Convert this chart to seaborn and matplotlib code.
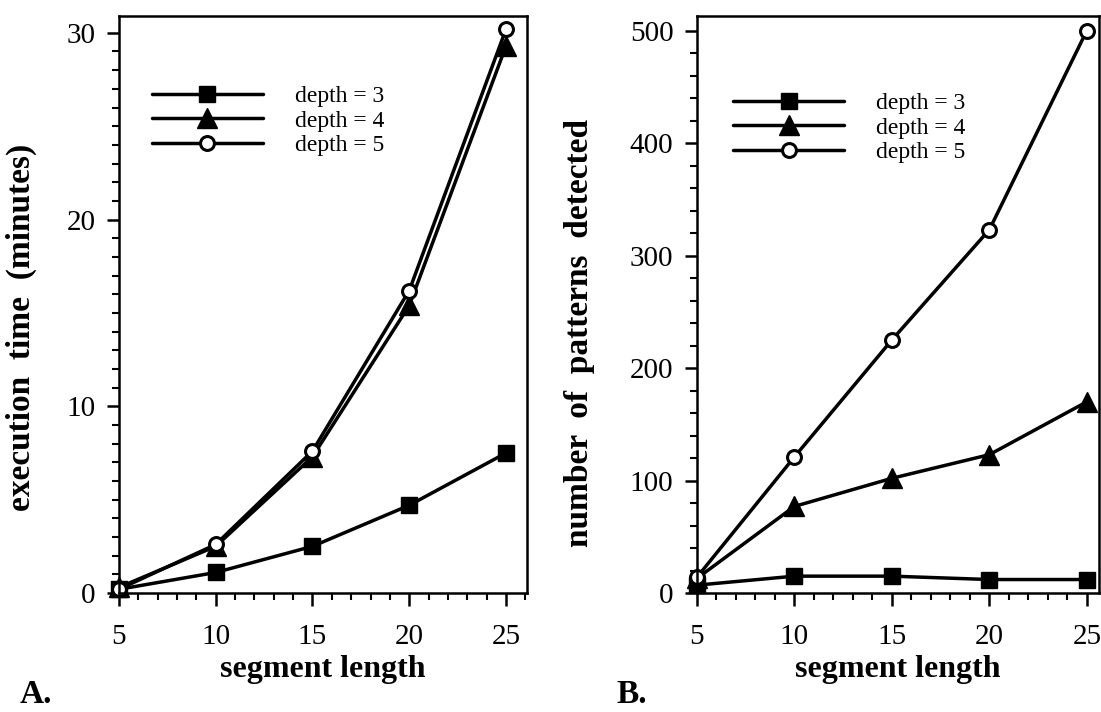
import numpy as np
import pandas as pd
import seaborn as sns
import matplotlib.pyplot as plt
from matplotlib.ticker import MultipleLocator

# データ
seg_len = [5, 10, 15, 20, 25]
depths = ["depth = 3", "depth = 4", "depth = 5"]

time_d3 = [0.2, 1.1, 2.5, 4.7, 7.5]
time_d4 = [0.3, 2.5, 7.3, 15.4, 29.3]
time_d5 = [0.2, 2.6, 7.6, 16.2, 30.2]

pat_d3 = [7, 15, 15, 12, 12]
pat_d4 = [13, 77, 102, 123, 170]
pat_d5 = [14, 121, 225, 323, 500]

sns.set_style("ticks")
plt.rcParams["font.family"] = ["Liberation Serif", "DejaVu Serif"]
plt.rcParams["text.color"] = "black"
plt.rcParams["axes.labelcolor"] = "black"
plt.rcParams["axes.edgecolor"] = "black"
plt.rcParams["xtick.color"] = "black"
plt.rcParams["ytick.color"] = "black"

# マーカーの設定
styles = [
    dict(marker="s", markersize=11, markerfacecolor="black", markeredgewidth=1),
    dict(marker="^", markersize=14, markerfacecolor="black", markeredgewidth=1),
    dict(marker="o", markersize=10, markerfacecolor="white", markeredgewidth=2.2),
]

fig = plt.figure(figsize=(11.01, 7.12), dpi=100)
ax_a = fig.add_axes([0.108, 0.1671, 0.3706, 0.8104])
ax_b = fig.add_axes([0.633, 0.1671, 0.3651, 0.8104])


def draw_panel(ax, series, ylim, ymajor, yminor, xmax, ylabel, leg_xy):
    for vals, name, st in zip(series, depths, styles):
        sns.lineplot(x=seg_len, y=vals, ax=ax, color="black", lw=2.5,
                     markeredgecolor="black", label=name, clip_on=False, **st)
    ax.set_xlim(5, xmax)
    ax.set_ylim(*ylim)
    ax.xaxis.set_major_locator(MultipleLocator(5))
    ax.xaxis.set_minor_locator(MultipleLocator(1))
    ax.yaxis.set_major_locator(MultipleLocator(ymajor))
    ax.yaxis.set_minor_locator(MultipleLocator(yminor))
    ax.tick_params(which="major", direction="out", length=9, width=1.8,
                   labelsize=21, pad=8, labelcolor="black")
    ax.tick_params(which="minor", direction="out", length=5, width=1.5)
    ax.tick_params(axis="x", which="major", pad=13)
    for sp in ax.spines.values():
        sp.set_linewidth(1.8)
        sp.set_color("black")
    ax.set_xlabel("segment length", fontsize=23, fontweight="bold")
    ax.xaxis.set_label_coords(0.5, -0.108)
    ax.set_ylabel(ylabel, fontsize=24, fontweight="bold")
    ax.yaxis.label.set_va("center")
    ax.legend(loc="upper left", bbox_to_anchor=leg_xy, frameon=False,
              fontsize=17, handlelength=4.7, handletextpad=1.35,
              labelspacing=0.12, borderpad=0, borderaxespad=0)


draw_panel(ax_a, [time_d3, time_d4, time_d5], (0, 30.9), 10, 1, 26.08,
           "execution  time  (minutes)", (0.081, 0.879))
ax_a.yaxis.set_label_coords(-0.238, 0.46)

draw_panel(ax_b, [pat_d3, pat_d4, pat_d5], (0, 513), 100, 20, 25.62,
           "number  of  patterns  detected", (0.09, 0.867))
ax_b.yaxis.set_label_coords(-0.291, 0.45)

fig.text(0.018, 0.012, "A.", fontsize=24, fontweight="bold")
fig.text(0.56, 0.012, "B.", fontsize=24, fontweight="bold")

plt.savefig("out.png", dpi=100)
